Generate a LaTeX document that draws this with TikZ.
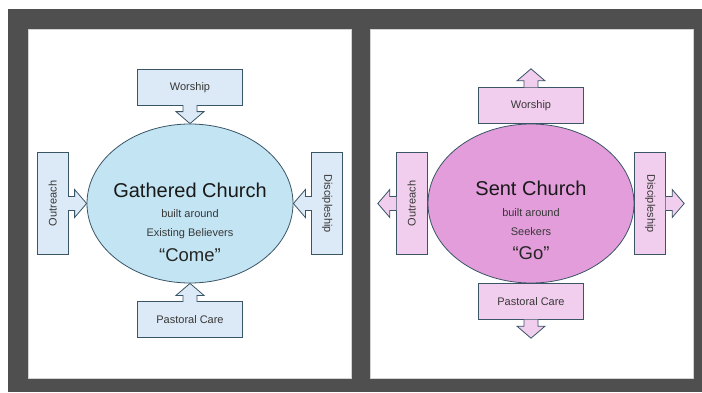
\documentclass[tikz,border=0pt]{standalone}
\usepackage{fontspec}
\setmainfont{Liberation Sans}
\usetikzlibrary{shapes.geometric}
\usetikzlibrary{positioning}

\definecolor{framegray}{HTML}{4F4F4F}
\definecolor{edgeblue}{HTML}{3A5566}
\definecolor{textgray}{HTML}{383838}
\definecolor{gatherfill}{HTML}{C3E4F3}
\definecolor{gatherbox}{HTML}{DCE9F6}
\definecolor{sentfill}{HTML}{E39DDB}
\definecolor{sentbox}{HTML}{F2CEEE}

% arrow of a callout box: fill colour, anchor, direction
\newcommand{\boxarrow}[3]{%
	\filldraw[fill=#1, draw=edgeblue, line width=0.8pt, shift={(#2)}, rotate=#3]
	(-0.5,7) -- (6,7) -- (6,14) -- (18,0) -- (6,-14) -- (6,-7) -- (-0.5,-7);}

\begin{document}
\begin{tikzpicture}[x=1pt,y=1pt,
	church node/.style={ellipse,draw=edgeblue,line width=0.8pt,minimum width=206pt,minimum height=159pt,inner sep=0pt},
	ministry box/.style={rectangle,draw=edgeblue,line width=0.8pt,inner sep=0pt,font=\fontsize{11}{13}\selectfont,text=textgray},
	wide box/.style={minimum width=105pt,minimum height=36pt},
	tall box/.style={minimum width=31pt,minimum height=102pt},
	title text/.style={anchor=base,inner sep=0pt,font=\fontsize{20}{24}\selectfont,text=black!90},
	sub text/.style={anchor=base,inner sep=0pt,font=\fontsize{11}{13}\selectfont,text=textgray},
	quote text/.style={anchor=base,inner sep=0pt,font=\fontsize{18.5}{22}\selectfont,text=black!85}]
	
	\useasboundingbox (0,0) rectangle (702,392);
	\fill[white] (0,0) rectangle (702,392);
	\fill[framegray] (8,0) rectangle (702,383);
	\filldraw[fill=white,draw=gray!35] (28,14) rectangle (351,363);
	\filldraw[fill=white,draw=gray!35] (370,14) rectangle (693,363);
	
	% gathered church
	\node[church node,fill=gatherfill] (gc) at (190,188.5) {};
	\node[ministry box,wide box,fill=gatherbox] (gw) [above=18pt of gc] {Worship};
	\node[ministry box,wide box,fill=gatherbox] (gp) [below=18pt of gc] {Pastoral Care};
	\node[ministry box,tall box,fill=gatherbox] (go) [left=18pt of gc] {\rotatebox{90}{Outreach}};
	\node[ministry box,tall box,fill=gatherbox] (gd) [right=18pt of gc] {\rotatebox{-90}{Discipleship}};
	\boxarrow{gatherbox}{gw.south}{-90}
	\boxarrow{gatherbox}{gp.north}{90}
	\boxarrow{gatherbox}{go.east}{0}
	\boxarrow{gatherbox}{gd.west}{180}
	
	\node[title text] (gct) at ([yshift=6.5pt]gc.center) {Gathered Church};
	\node[sub text] (gcb) at ([yshift=-13.5pt]gc.center) {built around};
	\node[sub text] (gce) at ([yshift=-32.5pt]gc.center) {Existing Believers};
	\node[quote text] (gcq) at ([yshift=-58pt]gc.center) {“Come”};
	
	% sent church
	\node[church node,fill=sentfill] (sc) at (531,188.5) {};
	\node[ministry box,wide box,fill=sentbox] (sw) [above=0pt of sc] {Worship};
	\node[ministry box,wide box,fill=sentbox] (sp) [below=0pt of sc] {Pastoral Care};
	\node[ministry box,tall box,fill=sentbox] (so) [left=0pt of sc] {\rotatebox{90}{Outreach}};
	\node[ministry box,tall box,fill=sentbox] (sd) [right=0pt of sc] {\rotatebox{-90}{Discipleship}};
	\boxarrow{sentbox}{sw.north}{90}
	\boxarrow{sentbox}{sp.south}{-90}
	\boxarrow{sentbox}{so.west}{180}
	\boxarrow{sentbox}{sd.east}{0}
	
	\node[title text] (sct) at ([yshift=8.5pt]sc.center) {Sent Church};
	\node[sub text] (scb) at ([yshift=-12.5pt]sc.center) {built around};
	\node[sub text] (scs) at ([yshift=-31.5pt]sc.center) {Seekers};
	\node[quote text] (scq) at ([yshift=-56pt]sc.center) {“Go”};
\end{tikzpicture}
\end{document}
